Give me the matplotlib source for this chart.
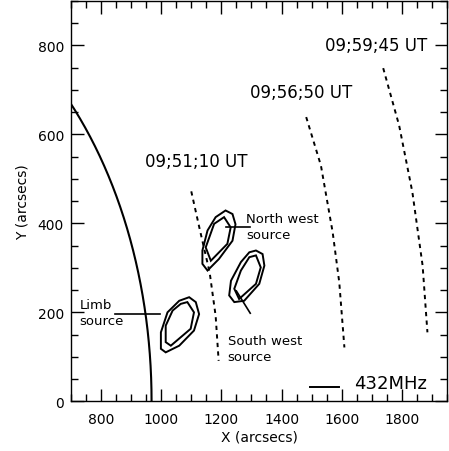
import matplotlib
matplotlib.use("Agg")
import matplotlib.pyplot as plt
import numpy as np
from matplotlib.ticker import MultipleLocator

# solar limb radius (arcsec)
limb_radius = 968

# dashed shock-front tracks, one per time
track_labels = ["09;51;10 UT", "09;56;50 UT", "09;59;45 UT"]
track_x = [[1100, 1128, 1161, 1181, 1191],
           [1482, 1531, 1570, 1592, 1609],
           [1738, 1791, 1835, 1869, 1885]]
track_y = [[472, 387, 290, 192, 91],
           [639, 530, 380, 267, 121],
           [749, 620, 470, 305, 155]]
label_xy = [(945, 541), (1294, 695), (1543, 800)]

# 432 MHz source contours (outer, inner)
limb_outer_x = [1093, 1115, 1126, 1109, 1060, 1015, 999, 999, 1021, 1060]
limb_outer_y = [234, 223, 196, 159, 125, 110, 118, 155, 200, 226]
limb_inner_x = [1087, 1109, 1098, 1032, 1015, 1015, 1038, 1065]
limb_inner_y = [223, 200, 163, 125, 133, 170, 204, 219]

nw_outer_x = [1214, 1237, 1247, 1237, 1192, 1154, 1137, 1137, 1154, 1181]
nw_outer_y = [429, 421, 398, 361, 320, 294, 309, 339, 384, 414]
nw_inner_x = [1209, 1231, 1220, 1165, 1148, 1176]
nw_inner_y = [414, 391, 354, 316, 346, 399]

sw_outer_x = [1315, 1337, 1343, 1326, 1276, 1243, 1226, 1232, 1265, 1293]
sw_outer_y = [339, 331, 305, 264, 226, 223, 238, 271, 313, 335]
sw_inner_x = [1315, 1331, 1315, 1259, 1243, 1265, 1293]
sw_inner_y = [328, 301, 264, 230, 253, 294, 324]

fig = plt.figure(figsize=(4.49, 4.52), dpi=100)
ax = fig.add_axes([0.158, 0.110, 0.8375, 0.8856])

# limb
t = np.linspace(0, np.pi / 2, 400)
ax.plot(limb_radius * np.cos(t), limb_radius * np.sin(t), color="black", lw=1.5)

for xs, ys in zip(track_x, track_y):
    ax.plot(xs, ys, color="black", lw=1.4, ls=(0, (2.2, 2.2)))
for lab, (lx, ly) in zip(track_labels, label_xy):
    ax.text(lx, ly, lab, fontsize=12, va="center", ha="left")

for xs, ys in [(limb_outer_x, limb_outer_y), (limb_inner_x, limb_inner_y),
               (nw_outer_x, nw_outer_y), (nw_inner_x, nw_inner_y),
               (sw_outer_x, sw_outer_y), (sw_inner_x, sw_inner_y)]:
    ax.fill(xs, ys, fill=False, edgecolor="black", lw=1.4)

# annotations
ax.plot([1217, 1294], [391, 391], color="black", lw=1.2)
ax.text(1283, 392, "North west\nsource", fontsize=9.5, va="center", ha="left", linespacing=1.3)
ax.plot([1250, 1296], [248, 198], color="black", lw=1.2)
ax.text(1221, 118, "South west\nsource", fontsize=9.5, va="center", ha="left", linespacing=1.3)
ax.plot([846, 995], [196, 196], color="black", lw=1.2)
ax.text(728, 200, "Limb\nsource", fontsize=9.5, va="center", ha="left", linespacing=1.3)

ax.plot([1495, 1592], [33, 33], color="black", lw=1.4)
ax.text(1642, 42, "432MHz", fontsize=13, va="center", ha="left")

ax.set_xlim(700, 1950)
ax.set_ylim(0, 900)
ax.xaxis.set_major_locator(MultipleLocator(200))
ax.xaxis.set_minor_locator(MultipleLocator(50))
ax.yaxis.set_major_locator(MultipleLocator(200))
ax.yaxis.set_minor_locator(MultipleLocator(50))
ax.tick_params(which="both", direction="in", top=True, right=True, labelsize=10)
ax.tick_params(which="major", length=9, width=1)
ax.tick_params(which="minor", length=5, width=1)
ax.tick_params(axis="x", pad=8)
ax.tick_params(axis="y", pad=5)
for s in ax.spines.values():
    s.set_linewidth(1)

ax.set_xlabel("X (arcsecs)", fontsize=10, labelpad=2)
ax.set_ylabel("Y (arcsecs)", fontsize=10, labelpad=6)

fig.savefig("out.png", dpi=100)
